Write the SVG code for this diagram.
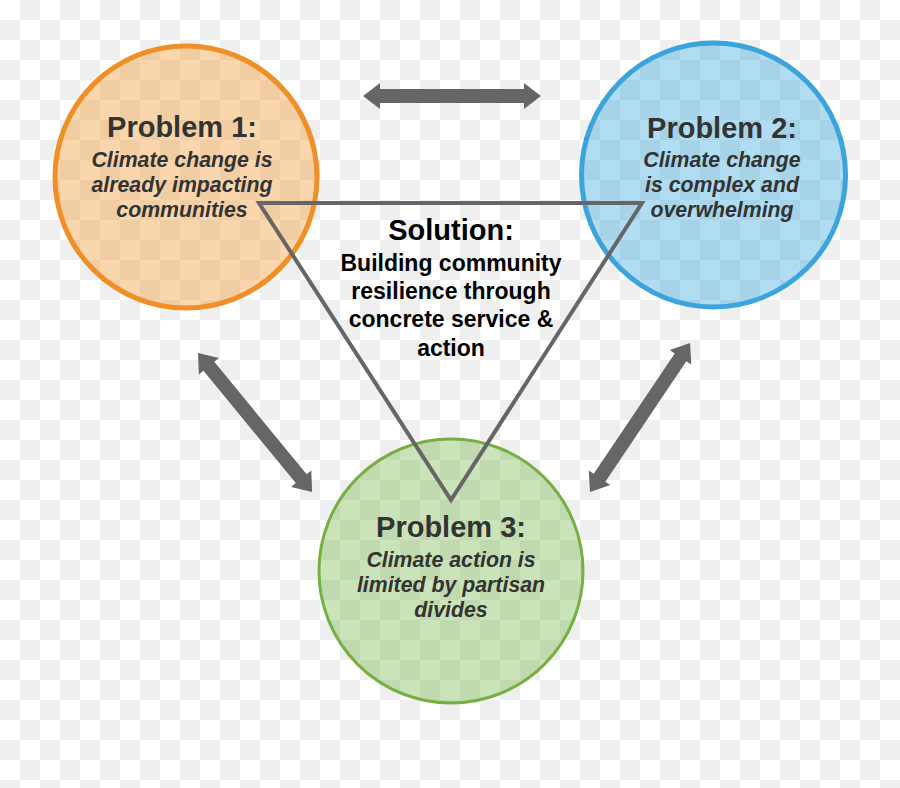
<svg xmlns="http://www.w3.org/2000/svg" xmlns:xlink="http://www.w3.org/1999/xlink" width="900" height="788" viewBox="0 0 900 788">
<style>
.ttl{font-family:"Liberation Sans",Arial,sans-serif;font-weight:bold;font-size:29px;fill:#333;text-anchor:middle}
.sub{font-family:"Liberation Sans",Arial,sans-serif;font-weight:bold;font-style:italic;font-size:21.3px;fill:#333;text-anchor:middle}
.sol{font-family:"Liberation Sans",Arial,sans-serif;font-weight:bold;font-size:29px;fill:#000;text-anchor:middle}
.solb{font-family:"Liberation Sans",Arial,sans-serif;font-weight:bold;font-size:23px;fill:#000;text-anchor:middle}
.arrow{fill:#666}
</style>
<defs>
<pattern id="chk" x="0" y="0" width="40" height="40" patternUnits="userSpaceOnUse">
<rect width="40" height="40" fill="#fff"/>
<rect x="20" y="0" width="20" height="20" fill="#efefef"/>
<rect x="0" y="20" width="20" height="20" fill="#efefef"/>
</pattern>
<polygon id="dbl" points="0,0 17,-13 17,-7 161,-7 161,-13 178,0 161,13 161,7 17,7 17,13"/>
</defs>
<rect width="900" height="788" fill="url(#chk)"/>
<g id="problem1">
<circle cx="186" cy="177" r="131" fill="#F5A347" fill-opacity="0.45" stroke="#EF8F26" stroke-width="5"/>
<text class="ttl" x="182" y="137">Problem 1:</text>
<text class="sub" x="182" y="167">Climate change is</text>
<text class="sub" x="182" y="192">already impacting</text>
<text class="sub" x="182" y="217">communities</text>
</g>
<g id="problem2">
<circle cx="713.5" cy="175" r="132" fill="#3DA9E0" fill-opacity="0.4" stroke="#3BA4DC" stroke-width="5"/>
<text class="ttl" x="722" y="138">Problem 2:</text>
<text class="sub" x="722" y="167">Climate change</text>
<text class="sub" x="722" y="192">is complex and</text>
<text class="sub" x="722" y="217">overwhelming</text>
</g>
<g id="problem3">
<circle cx="451" cy="571" r="132" fill="#7DBA50" fill-opacity="0.4" stroke="#76B043" stroke-width="3"/>
<text class="ttl" x="451" y="537">Problem 3:</text>
<text class="sub" x="451" y="567">Climate action is</text>
<text class="sub" x="451" y="592">limited by partisan</text>
<text class="sub" x="451" y="617">divides</text>
</g>
<g id="solution">
<polygon points="259,203 642,203 451,500" fill="none" stroke="#666" stroke-width="4"/>
<text class="sol" x="451" y="240">Solution:</text>
<text class="solb" x="451" y="271">Building community</text>
<text class="solb" x="451" y="299">resilience through</text>
<text class="solb" x="451" y="327">concrete service &amp;</text>
<text class="solb" x="451" y="356">action</text>
</g>
<g id="connectors">
<use xlink:href="#dbl" class="arrow" transform="translate(363,96)"/>
<use xlink:href="#dbl" class="arrow" transform="translate(198,353) rotate(50.6) scale(1.01,1)"/>
<use xlink:href="#dbl" class="arrow" transform="translate(590,492) rotate(-56.1) scale(1.008,1)"/>
</g>
</svg>
